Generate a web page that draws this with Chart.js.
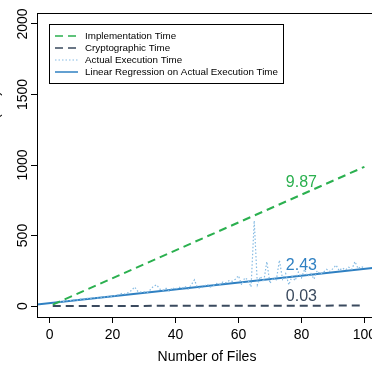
<!DOCTYPE html>
<html>
<head>
<meta charset="utf-8">
<script src="https://cdn.jsdelivr.net/npm/chart.js@4.4.0/dist/chart.umd.min.js"></script>
<style>
html, body { margin: 0; padding: 0; background: #fff; overflow: hidden; }
#wrap { width: 372px; height: 367px; overflow: hidden; }
canvas { display: block; }
</style>
</head>
<body>
<div id="wrap"><canvas id="chart" width="380" height="367"></canvas></div>
<script>
// measured execution time per number of files (1..100)
var actualTime = [
    15, 22, 28, 30, 35, 40, 38, 45, 42, 50,
    48, 55, 52, 60, 58, 55, 65, 62, 70, 68,
    75, 80, 90, 85, 95, 110, 135, 105, 98, 100,
    95, 115, 140, 150, 120, 110, 125, 105, 130, 118,
    135, 125, 140, 120, 150, 185, 130, 125, 140, 155,
    135, 145, 160, 150, 170, 165, 180, 175, 190, 215,
    150, 200, 185, 135, 605, 150, 210, 170, 315, 160,
    200, 180, 325, 190, 230, 150, 210, 180, 240, 200,
    260, 210, 230, 190, 250, 225, 240, 260, 245, 265,
    290, 250, 270, 255, 275, 260, 315, 265, 280, 270
];

// straight lines: end points
var implX = [1, 100];
var implY = [9.87, 987];
var cryptoX = [1, 100];
var cryptoY = [0.03, 3];
var regX = [-4, 104];
var regY = [10.3, 272.7];

// slope labels
var slopeText = ['9.87', '2.43', '0.03'];
var slopeX = [80, 80, 80];
var slopeY = [875, 285, 70];

var xTicks = [0, 20, 40, 60, 80, 100];
var yTicks = [0, 500, 1000, 1500, 2000];

var legendNames = [
    'Implementation Time',
    'Cryptographic Time',
    'Actual Execution Time',
    'Linear Regression on Actual Execution Time'
];

var GREEN = '#2bb04f';
var NAVY = '#3a4a5e';
var LIGHT = '#86bbe3';
var BLUE = '#2f80c2';
var FONT = '"Liberation Sans", Arial, Helvetica, sans-serif';

var toPoints = function(xs, ys) {
    var pts = [];
    for (var i = 0; i < xs.length; i++) {
        pts.push({x: xs[i], y: ys[i]});
    }
    return pts;
};

var actualPoints = actualTime.map(function(v, i) {
    return {x: i + 1, y: v};
});

// keep the plot area fixed, labels may run off the edge
var noPad = function(scale) {
    scale.paddingLeft = 0;
    scale.paddingRight = 0;
    scale.paddingTop = 0;
    scale.paddingBottom = 0;
};

var boxPlugin = {
    id: 'box',
    afterDraw: function(chart) {
        var ctx = chart.ctx;
        var a = chart.chartArea;
        ctx.save();
        ctx.strokeStyle = '#000';
        ctx.lineWidth = 1;
        ctx.strokeRect(Math.round(a.left) + 0.5, Math.round(a.top) + 0.5,
            Math.round(a.right - a.left), Math.round(a.bottom - a.top));

        // y axis title, mostly outside the canvas
        ctx.font = '14px ' + FONT;
        ctx.fillStyle = '#000';
        ctx.translate(-1, 91);
        ctx.rotate(-Math.PI / 2);
        ctx.textAlign = 'right';
        ctx.textBaseline = 'alphabetic';
        ctx.fillText('Execution Time (ms)', 0, 0);
        ctx.restore();
    }
};

var slopePlugin = {
    id: 'slopes',
    afterDatasetsDraw: function(chart) {
        var ctx = chart.ctx;
        var xs = chart.scales.x, ys = chart.scales.y;
        var colors = [GREEN, BLUE, NAVY];
        ctx.save();
        ctx.font = '16px ' + FONT;
        ctx.textAlign = 'center';
        ctx.textBaseline = 'middle';
        for (var i = 0; i < slopeText.length; i++) {
            ctx.fillStyle = colors[i];
            ctx.fillText(slopeText[i], xs.getPixelForValue(slopeX[i]), ys.getPixelForValue(slopeY[i]));
        }
        ctx.restore();
    }
};

var legendPlugin = {
    id: 'boxLegend',
    afterDraw: function(chart) {
        var ctx = chart.ctx;
        var sets = chart.data.datasets;
        ctx.save();
        ctx.fillStyle = '#fff';
        ctx.fillRect(49.5, 24.5, 234, 59);
        ctx.strokeStyle = '#000';
        ctx.lineWidth = 1;
        ctx.setLineDash([]);
        ctx.strokeRect(49.5, 24.5, 234, 59);
        ctx.font = '9.8px ' + FONT;
        ctx.textBaseline = 'middle';
        ctx.textAlign = 'left';
        for (var i = 0; i < legendNames.length; i++) {
            var ds = sets[i];
            var y = 36 + i * 12;
            ctx.strokeStyle = ds.borderColor;
            ctx.lineWidth = Math.min(ds.borderWidth, 1.5);
            ctx.setLineDash(ds.borderDash || []);
            ctx.beginPath();
            ctx.moveTo(55, y);
            ctx.lineTo(78, y);
            ctx.stroke();
            ctx.fillStyle = '#000';
            ctx.fillText(legendNames[i], 85, y);
        }
        ctx.restore();
    }
};

var initChart = function() {
    var canvas = document.getElementById('chart');

    new Chart(canvas, {
        type: 'scatter',
        data: {
            datasets: [{
                label: legendNames[0],
                data: toPoints(implX, implY),
                showLine: true,
                borderColor: GREEN,
                borderWidth: 2,
                borderDash: [8, 5],
                pointRadius: 0
            }, {
                label: legendNames[1],
                data: toPoints(cryptoX, cryptoY),
                showLine: true,
                borderColor: NAVY,
                borderWidth: 2,
                borderDash: [8, 5],
                pointRadius: 0
            }, {
                label: legendNames[2],
                data: actualPoints,
                showLine: true,
                borderColor: LIGHT,
                borderWidth: 1.2,
                borderDash: [1.5, 2],
                pointRadius: 0
            }, {
                label: legendNames[3],
                data: toPoints(regX, regY),
                showLine: true,
                borderColor: BLUE,
                borderWidth: 2,
                pointRadius: 0
            }]
        },
        options: {
            responsive: false,
            animation: false,
            devicePixelRatio: 1,
            layout: {padding: {top: 13, right: 3, left: 0, bottom: 0}},
            plugins: {
                legend: {display: false},
                tooltip: {enabled: false}
            },
            scales: {
                x: {
                    type: 'linear',
                    min: -4,
                    max: 104,
                    afterFit: function(scale) {
                        scale.height = 50;
                        noPad(scale);
                    },
                    afterBuildTicks: function(scale) {
                        scale.ticks = xTicks.map(function(v) { return {value: v}; });
                    },
                    grid: {drawOnChartArea: false, tickLength: 6, color: '#000', tickColor: '#000'},
                    border: {display: true, color: '#000', width: 1},
                    ticks: {
                        color: '#000',
                        font: {family: FONT, size: 14},
                        padding: 4,
                        maxRotation: 0,
                        callback: function(v) { return String(v); }
                    },
                    title: {
                        display: true,
                        text: 'Number of Files',
                        color: '#000',
                        font: {family: FONT, size: 14},
                        padding: {top: 0, bottom: 1}
                    }
                },
                y: {
                    type: 'linear',
                    min: -78,
                    max: 2078,
                    afterFit: function(scale) {
                        scale.width = 37;
                        noPad(scale);
                    },
                    afterBuildTicks: function(scale) {
                        scale.ticks = yTicks.map(function(v) { return {value: v}; });
                    },
                    grid: {drawOnChartArea: false, tickLength: 6, color: '#000', tickColor: '#000'},
                    border: {display: true, color: '#000', width: 1},
                    ticks: {
                        color: '#000',
                        font: {family: FONT, size: 14},
                        padding: -8,
                        minRotation: 90,
                        maxRotation: 90,
                        crossAlign: 'center',
                        callback: function(v) { return String(v); }
                    }
                }
            }
        },
        plugins: [boxPlugin, slopePlugin, legendPlugin]
    });
};

window.onload = initChart;
</script>
</body>
</html>
